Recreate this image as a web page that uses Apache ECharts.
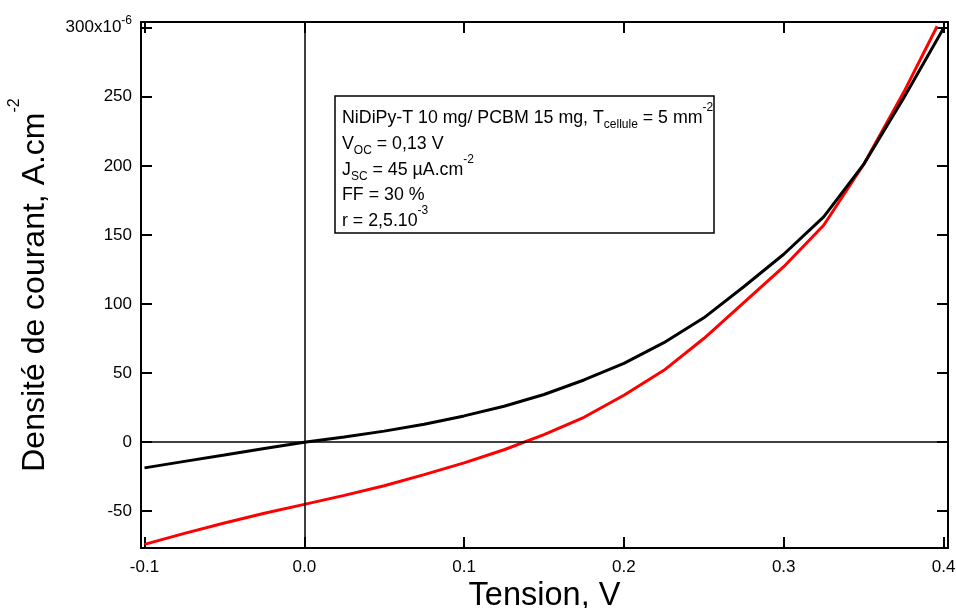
<!DOCTYPE html>
<html><head><meta charset="utf-8">
<script src="https://cdn.jsdelivr.net/npm/echarts@6/dist/echarts.min.js"></script>
<style>html,body{margin:0;padding:0;background:#fff}#c{width:956px;height:608px}</style>
</head><body><div id="c"></div>
<script>
// ---- data ----
const voltageBlack = [-0.1, -0.075, -0.05, -0.025, 0, 0.025, 0.05, 0.075, 0.1, 0.125, 0.15, 0.175, 0.2, 0.225, 0.25, 0.275, 0.3, 0.325, 0.35, 0.375, 0.4];
const currentBlack = [-18.6, -13.9, -9.3, -4.6, 0, 3.8, 8, 13, 19, 26, 34.5, 45, 57, 72, 90, 112.5, 136, 163, 201, 249, 299.5];
const voltageRed = [-0.1, -0.075, -0.05, -0.025, 0, 0.025, 0.05, 0.075, 0.1, 0.125, 0.15, 0.175, 0.2, 0.225, 0.25, 0.275, 0.3, 0.325, 0.35, 0.375, 0.396];
const currentRed = [-74, -66, -58.5, -51.5, -45, -38.5, -31.5, -23.5, -15, -5.5, 5.5, 18, 34, 52, 75, 101, 127, 157, 201, 253, 301];
const xTickValues = [-0.1, 0, 0.1, 0.2, 0.3, 0.4];
const xTickLabels = ['-0.1', '0.0', '0.1', '0.2', '0.3', '0.4'];
const yTickValues = [-50, 0, 50, 100, 150, 200, 250, 300];
const yTickLabels = ['-50', '0', '50', '100', '150', '200', '250', '300x10{sup|-6}'];
const infoLines = [
  '{n|NiDiPy-T 10 mg/ PCBM 15 mg, T}{sub|cellule}{n| = 5 mm}{sup|-2}',
  '{n|V}{sub|OC}{n| = 0,13 V}',
  '{n|J}{sub|SC}{n| = 45 µA.cm}{sup|-2}',
  '{n|FF = 30 %}',
  '{n|r = 2,5.10}{sup|-3}'
];

const FONT = '"Liberation Sans", Arial, Helvetica, sans-serif';
const pairs = (xs, ys) => xs.map((x, i) => [x, ys[i]]);
function lookup(v, vals, labels) {
  for (let i = 0; i < vals.length; i++) if (Math.abs(v - vals[i]) < 1e-6) return labels[i];
  return '';
}
const axisLineStyle = { show: true, onZero: false, lineStyle: { color: '#000', width: 2 } };
const tickStyle = { show: true, inside: true, length: 11, lineStyle: { color: '#000', width: 2 } };

const X_MIN = -0.1022, X_MAX = 0.4028, Y_MIN = -76.6, Y_MAX = 304.1;

const chart = echarts.init(document.getElementById('c'));
const lineY = [118, 144, 170, 195.5, 221.5];
const option = {
  animation: false,
  backgroundColor: '#fff',
  grid: { left: 141, right: 8, top: 22, bottom: 60, containLabel: false, outerBoundsMode: 'none' },
  xAxis: [
    {
      type: 'value', position: 'bottom', min: X_MIN, max: X_MAX, splitNumber: 5,
      axisLine: axisLineStyle, axisTick: tickStyle, splitLine: { show: false },
      axisLabel: { show: true, margin: 11, fontSize: 17, lineHeight: 17, color: '#000', fontFamily: FONT,
        showMinLabel: false, showMaxLabel: false,
        formatter: v => lookup(v, xTickValues, xTickLabels) },
      name: 'Tension, V', nameLocation: 'middle', nameGap: 32, nameMoveOverlap: false,
      nameTextStyle: { fontSize: 32.5, lineHeight: 33, color: '#000', fontFamily: FONT }
    },
    {
      type: 'value', position: 'top', min: X_MIN, max: X_MAX, splitNumber: 5,
      axisLine: axisLineStyle, axisTick: tickStyle, splitLine: { show: false },
      axisLabel: { show: false }
    }
  ],
  yAxis: [
    {
      type: 'value', position: 'left', min: Y_MIN, max: Y_MAX, splitNumber: 8,
      axisLine: axisLineStyle, axisTick: tickStyle, splitLine: { show: false },
      axisLabel: { show: true, margin: 9, fontSize: 17, lineHeight: 26, color: '#000', fontFamily: FONT,
        showMinLabel: false, showMaxLabel: false,
        formatter: v => lookup(v, yTickValues, yTickLabels),
        rich: { sup: { fontSize: 12, lineHeight: 12, verticalAlign: 'top', fontFamily: FONT, color: '#000' } } },
      name: '{a|Densité de courant, A.cm}{sup|-2}', nameLocation: 'middle', nameGap: 78, nameRotate: 90,
      nameMoveOverlap: false,
      nameTextStyle: {
        color: '#000', fontFamily: FONT, fontSize: 32,
        rich: {
          a: { fontSize: 32, lineHeight: 56, fontFamily: FONT, color: '#000' },
          sup: { fontSize: 16, lineHeight: 16, verticalAlign: 'top', fontFamily: FONT, color: '#000' }
        }
      }
    },
    {
      type: 'value', position: 'right', min: Y_MIN, max: Y_MAX, splitNumber: 8,
      axisLine: axisLineStyle, axisTick: tickStyle, splitLine: { show: false },
      axisLabel: { show: false }
    }
  ],
  series: [
    {
      name: 'red', type: 'line', xAxisIndex: 0, yAxisIndex: 0,
      data: pairs(voltageRed, currentRed), symbol: 'none', showSymbol: false, smooth: false,
      lineStyle: { color: '#ff0000', width: 3 }, itemStyle: { color: '#ff0000' }, z: 3,
      emphasis: { disabled: true }
    },
    {
      name: 'black', type: 'line', xAxisIndex: 0, yAxisIndex: 0,
      data: pairs(voltageBlack, currentBlack), symbol: 'none', showSymbol: false, smooth: false,
      lineStyle: { color: '#000', width: 3 }, itemStyle: { color: '#000' }, z: 4,
      emphasis: { disabled: true },
      markLine: {
        silent: true, symbol: ['none', 'none'], label: { show: false },
        lineStyle: { color: '#000', width: 1.5, type: 'solid' },
        emphasis: { disabled: true },
        data: [{ xAxis: 0 }, { yAxis: 0 }]
      }
    }
  ],
  graphic: [
    { type: 'rect', x: 335, y: 96, shape: { width: 379, height: 137 }, silent: true,
      style: { fill: 'rgba(0,0,0,0)', stroke: '#000', lineWidth: 1.5 } }
  ].concat(infoLines.map((t, i) => ({
    type: 'text', x: 342, y: lineY[i], silent: true,
    style: {
      text: t, align: 'left', verticalAlign: 'middle', fill: '#000', fontFamily: FONT, fontSize: 17.8,
      rich: {
        n: { fontSize: 17.8, lineHeight: 33, fontFamily: FONT, fill: '#000' },
        sub: { fontSize: 12, lineHeight: 12, verticalAlign: 'bottom', padding: [0, 0, 4, 0], fontFamily: FONT, fill: '#000' },
        sup: { fontSize: 12, lineHeight: 12, verticalAlign: 'top', fontFamily: FONT, fill: '#000' }
      }
    }
  })))
};
chart.setOption(option);
</script>
</body></html>
